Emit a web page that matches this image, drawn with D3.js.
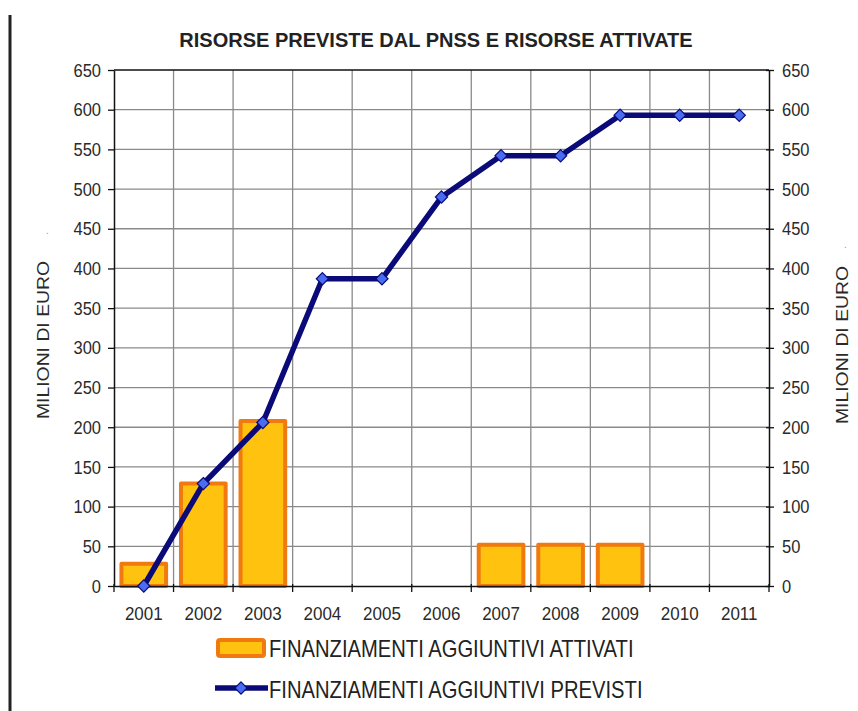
<!DOCTYPE html>
<html>
<head>
<meta charset="utf-8">
<script src="https://cdn.jsdelivr.net/npm/d3@7"></script>
<style>
  html, body { margin: 0; padding: 0; background: #ffffff; }
  svg { display: block; font-family: "Liberation Sans", Arial, sans-serif; }
</style>
</head>
<body>
<svg id="chart" width="858" height="711"></svg>
<script>
// ---- data ----
const years = ["2001","2002","2003","2004","2005","2006","2007","2008","2009","2010","2011"];
const attivati = [28, 129, 208, null, null, null, 52, 52, 52, null, null];
const previsti = [0, 129, 206, 387, 387, 490, 542, 542, 593, 593, 593];
const yTicks = [0,50,100,150,200,250,300,350,400,450,500,550,600,650];
const titleText = "RISORSE PREVISTE DAL PNSS E RISORSE ATTIVATE";
const axisTitle = "MILIONI DI EURO";
const legendLabels = ["FINANZIAMENTI AGGIUNTIVI ATTIVATI", "FINANZIAMENTI AGGIUNTIVI PREVISTI"];

// ---- layout ----
const svg = d3.select("#chart");
const L = 114, R = 769, T = 70, B = 586;
const barFill = "#FFC20E", barStroke = "#F07A10";
const lineCol = "#0A0A78", markerFill = "#4A6CF0";
const textCol = "#2a2a2a";
const FONT = "'Liberation Sans', Arial, sans-serif";

const x = d3.scaleBand().domain(years).range([L, R]).padding(0);
const y = d3.scaleLinear().domain([0, 650]).range([B, T]);

// left border line
svg.append("line").attr("x1", 10).attr("x2", 10).attr("y1", 15).attr("y2", 711)
  .attr("stroke", "#222").attr("stroke-width", 3);

// title
svg.append("text").attr("transform", "translate(436,47) scale(1,1.05)").attr("text-anchor", "middle")
  .attr("font-size", 20).attr("font-weight", "bold").attr("fill", "#222")
  .text(titleText);

// horizontal gridlines
svg.append("g").selectAll("line").data(yTicks.filter(v => v > 0 && v < 650)).join("line")
  .attr("x1", L).attr("x2", R).attr("y1", d => y(d)).attr("y2", d => y(d))
  .attr("stroke", "#8a8a8a").attr("stroke-width", 1.3);

// vertical gridlines
svg.append("g").selectAll("line").data(years.slice(1)).join("line")
  .attr("x1", d => x(d)).attr("x2", d => x(d)).attr("y1", T).attr("y2", B)
  .attr("stroke", "#8a8a8a").attr("stroke-width", 1.3);

// top border
svg.append("line").attr("x1", L).attr("x2", R).attr("y1", T).attr("y2", T)
  .attr("stroke", "#111").attr("stroke-width", 1.5);

// bars
const bw = x.bandwidth() * 0.75;
svg.append("g").selectAll("rect").data(years.map((d, i) => ({year: d, v: attivati[i]})).filter(d => d.v != null))
  .join("rect")
  .attr("x", d => x(d.year) + (x.bandwidth() - bw) / 2)
  .attr("y", d => y(d.v))
  .attr("width", bw)
  .attr("height", d => y(0) - y(d.v))
  .attr("fill", barFill).attr("stroke", barStroke).attr("stroke-width", 4)
  .attr("stroke-linejoin", "round");

// axes
const leftAxis = d3.axisLeft(y).tickValues(yTicks).tickSizeInner(6).tickSizeOuter(0).tickPadding(8);
const gl = svg.append("g").attr("transform", `translate(${L},0)`).call(leftAxis);
const rightAxis = d3.axisRight(y).tickValues(yTicks).tickSizeInner(5).tickSizeOuter(0).tickPadding(8);
const gr = svg.append("g").attr("transform", `translate(${R},0)`).call(rightAxis);
[gl, gr].forEach(g => {
  g.select(".domain").attr("stroke", "#111").attr("stroke-width", 1.5);
  g.selectAll(".tick line").attr("stroke", "#111").attr("stroke-width", 1.3);
  g.selectAll(".tick text").attr("font-size", 16.5).attr("fill", textCol)
    .attr("font-family", FONT).attr("transform", "scale(1,1.15)");
});
gl.selectAll(".tick text").attr("x", -13);
gr.selectAll(".tick text").attr("x", 13);
gr.selectAll(".tick line").attr("x1", -3);

// bottom axis
const bottomAxis = d3.axisBottom(x).tickSize(0).tickFormat("");
const gb = svg.append("g").attr("transform", `translate(0,${B})`).call(bottomAxis);
gb.select(".domain").attr("stroke", "#111").attr("stroke-width", 1.5);
svg.append("g").selectAll("text").data(years).join("text")
  .attr("transform", d => `translate(${x(d) + x.bandwidth() / 2},620) scale(1,1.07)`)
  .attr("text-anchor", "middle").attr("font-size", 17).attr("fill", textCol).text(d => d);
// category boundary ticks
svg.append("g").selectAll("line").data(years.concat(["end"])).join("line")
  .attr("x1", (d, i) => i < years.length ? x(d) : R)
  .attr("x2", (d, i) => i < years.length ? x(d) : R)
  .attr("y1", B - 2).attr("y2", B + 6)
  .attr("stroke", "#111").attr("stroke-width", 1.3);

// line series
const pts = years.map((d, i) => ({year: d, v: previsti[i]}));
const lineGen = d3.line().x(d => x(d.year) + x.bandwidth() / 2).y(d => y(d.v));
svg.append("path").datum(pts).attr("d", lineGen)
  .attr("fill", "none").attr("stroke", lineCol).attr("stroke-width", 5.5)
  .attr("stroke-linejoin", "round");
const diamond = d3.symbol().type(d3.symbolDiamond2).size(95);
svg.append("g").selectAll("path").data(pts).join("path")
  .attr("d", diamond)
  .attr("transform", d => `translate(${x(d.year) + x.bandwidth() / 2},${y(d.v)})`)
  .attr("fill", markerFill).attr("stroke", lineCol).attr("stroke-width", 1.2);

// axis titles
svg.append("text").attr("transform", "translate(49,340) rotate(-90) scale(1.14,1)")
  .attr("text-anchor", "middle").attr("font-size", 17).attr("fill", textCol).text(axisTitle);
svg.append("text").attr("transform", "translate(848,345) rotate(-90) scale(1.14,1)")
  .attr("text-anchor", "middle").attr("font-size", 17).attr("fill", textCol).text(axisTitle);
svg.append("text").attr("x", 46).attr("y", 234).attr("font-size", 10).attr("fill", "#999").text(".");
svg.append("text").attr("x", 844).attr("y", 248).attr("font-size", 10).attr("fill", "#999").text(".");

// legend
const lg = svg.append("g");
lg.append("rect").attr("x", 218).attr("y", 640).attr("width", 46).attr("height", 16)
  .attr("fill", barFill).attr("stroke", barStroke).attr("stroke-width", 4).attr("rx", 2);
lg.append("text").attr("transform", "translate(269,657) scale(1,1.18)")
  .attr("font-size", 20.2).attr("fill", "#222").text(legendLabels[0]);
lg.append("line").attr("x1", 215).attr("x2", 268).attr("y1", 688).attr("y2", 688)
  .attr("stroke", lineCol).attr("stroke-width", 5.5);
lg.append("path").attr("d", diamond).attr("transform", "translate(241,688)")
  .attr("fill", markerFill).attr("stroke", lineCol).attr("stroke-width", 1.2);
lg.append("text").attr("transform", "translate(269,698) scale(1,1.18)")
  .attr("font-size", 20.2).attr("fill", "#222").text(legendLabels[1]);
</script>
</body>
</html>
